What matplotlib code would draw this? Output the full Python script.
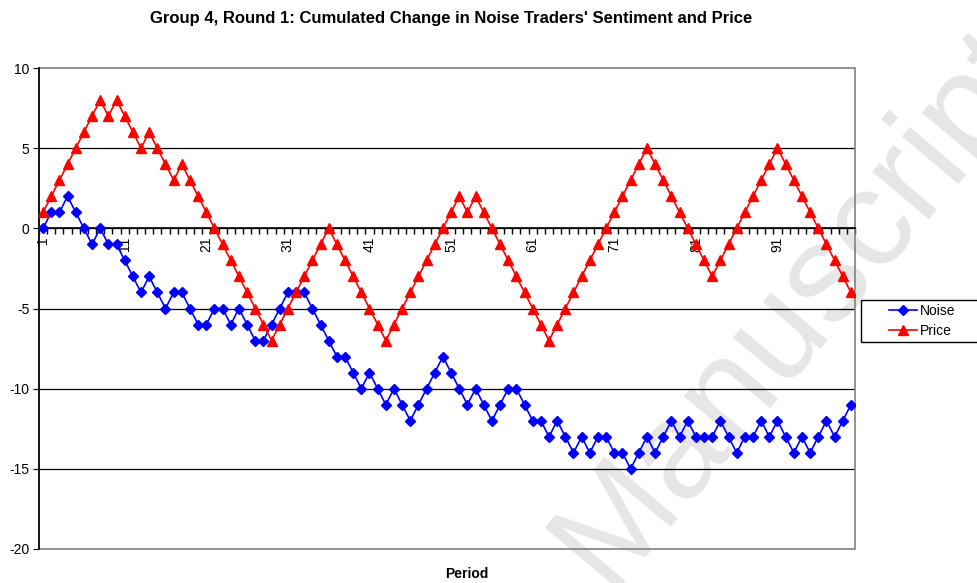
import matplotlib
matplotlib.use('Agg')
import matplotlib.pyplot as plt
from matplotlib.patches import Rectangle
import numpy as np

plt.rcParams['font.family'] = ['Liberation Sans', 'DejaVu Sans']
plt.rcParams['axes.unicode_minus'] = False

# Data (periods 1..100)
periods = np.arange(1, 101)
noise = [0, 1, 1, 2, 1, 0, -1, 0, -1, -1,
         -2, -3, -4, -3, -4, -5, -4, -4, -5, -6,
         -6, -5, -5, -6, -5, -6, -7, -7, -6, -5,
         -4, -4, -4, -5, -6, -7, -8, -8, -9, -10,
         -9, -10, -11, -10, -11, -12, -11, -10, -9, -8,
         -9, -10, -11, -10, -11, -12, -11, -10, -10, -11,
         -12, -12, -13, -12, -13, -14, -13, -14, -13, -13,
         -14, -14, -15, -14, -13, -14, -13, -12, -13, -12,
         -13, -13, -13, -12, -13, -14, -13, -13, -12, -13,
         -12, -13, -14, -13, -14, -13, -12, -13, -12, -11]
price = [1, 2, 3, 4, 5, 6, 7, 8, 7, 8,
         7, 6, 5, 6, 5, 4, 3, 4, 3, 2,
         1, 0, -1, -2, -3, -4, -5, -6, -7, -6,
         -5, -4, -3, -2, -1, 0, -1, -2, -3, -4,
         -5, -6, -7, -6, -5, -4, -3, -2, -1, 0,
         1, 2, 1, 2, 1, 0, -1, -2, -3, -4,
         -5, -6, -7, -6, -5, -4, -3, -2, -1, 0,
         1, 2, 3, 4, 5, 4, 3, 2, 1, 0,
         -1, -2, -3, -2, -1, 0, 1, 2, 3, 4,
         5, 4, 3, 2, 1, 0, -1, -2, -3, -4]
label_periods = [1, 11, 21, 31, 41, 51, 61, 71, 81, 91]
y_ticks = [10, 5, 0, -5, -10, -15, -20]

fig = plt.figure(figsize=(9.77, 5.83), dpi=100)
ax = fig.add_axes([39 / 977, 1 - 549 / 583, 816 / 977, 481 / 583])

# watermark behind everything
ax.text(0.93, 0.505, 'Manuscript', transform=ax.transAxes, rotation=50,
        fontsize=100, color='#e6e6e6', ha='center', va='center',
        clip_on=False, zorder=0.5)

for y in [5, 0, -5, -10, -15]:
    ax.axhline(y, color='black', linewidth=0.9, zorder=1)

ax.plot(periods, noise, color='#0000ff', marker='D', markersize=5,
        linewidth=1.2, label='Noise', zorder=3)
ax.plot(periods, price, color='#ff0000', marker='^', markersize=7,
        linewidth=1.2, label='Price', zorder=3)

ax.set_xlim(0.5, 100.5)
ax.set_ylim(-20, 10)

# plot area border
ax.add_patch(Rectangle((0, 0), 1, 1, transform=ax.transAxes, fill=False,
                       edgecolor='#808080', linewidth=1.2, zorder=2,
                       clip_on=False))

for side in ['top', 'right']:
    ax.spines[side].set_visible(False)
ax.spines['left'].set_linewidth(1.2)
ax.spines['bottom'].set_position(('data', 0))
ax.spines['bottom'].set_linewidth(1.2)
ax.spines['bottom'].set_zorder(2)

ax.set_yticks(y_ticks)
ax.tick_params(axis='y', direction='out', length=4, labelsize=10, pad=3)

ax.set_xticks(label_periods)
ax.set_xticklabels([str(p) for p in label_periods], rotation=90,
                   fontsize=10)
ax.set_xticks(np.arange(0.5, 101, 1), minor=True)
ax.tick_params(axis='x', which='major', length=0, pad=6)
ax.tick_params(axis='x', which='minor', direction='out', length=4,
               width=1)

fig.text(451 / 977, 1 - 18 / 583,
         "Group 4, Round 1: Cumulated Change in Noise Traders' Sentiment and Price",
         ha='center', va='center', fontsize=12, fontweight='bold')
fig.text(467 / 977, 1 - 574 / 583, 'Period', ha='center', va='center',
         fontsize=10, fontweight='bold')

# legend box runs off the right edge like in the original
fig.patches.append(Rectangle((861 / 977, 1 - 342 / 583), 130 / 977, 42 / 583,
                             transform=fig.transFigure, fill=True,
                             facecolor='white', edgecolor='black',
                             linewidth=1.0, zorder=4))
leg = fig.legend(loc='center left', bbox_to_anchor=(889 / 977, 1 - 321 / 583),
                 fontsize=10, frameon=False, handlelength=2.0,
                 borderpad=0, borderaxespad=0, labelspacing=0.42,
                 handletextpad=0.25)
leg.set_zorder(5)

fig.savefig('out.png', dpi=100)
